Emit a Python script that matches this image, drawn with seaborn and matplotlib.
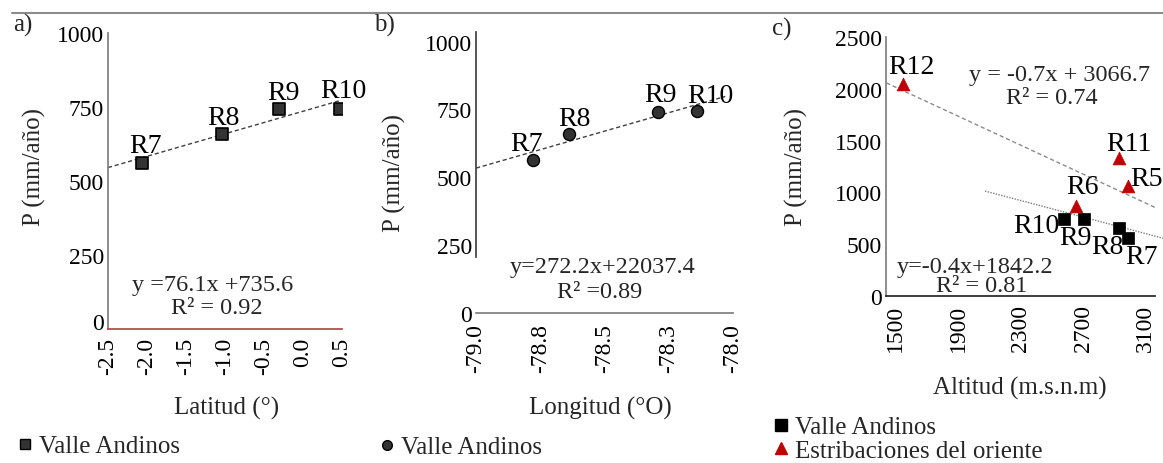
import numpy as np
import pandas as pd
import seaborn as sns
import matplotlib
matplotlib.use("Agg")
import matplotlib.pyplot as plt
from matplotlib.lines import Line2D

# ---------------- data ----------------
valle_regions = ["R7", "R8", "R9", "R10"]
valle_lat = [-2.07, -1.04, -0.31, 0.47]
valle_lon = [-78.78, -78.64, -78.29, -78.14]
valle_alt = [2989, 2930, 2706, 2578]
valle_p = [562, 660, 742, 744]

est_regions = ["R5", "R6", "R11", "R12"]
est_alt = [2985, 2655, 2930, 1551]
est_p = [1058, 871, 1329, 2048]

# trend lines (slope, intercept) as printed, and x-extent of each drawn line
fit_a = (76.1, 735.6)
fit_b = (272.2, 22037.4)
fit_c_est = (-0.7, 3066.7)
fit_c_valle = (-0.4, 1842.2)
fit_a_x = [-2.5, 0.47]
fit_b_x = [-79.0, -78.03]
fit_c_est_x = [1442, 3160]
fit_c_valle_x = [2073, 3211]

ticks_a = [-2.5, -2.0, -1.5, -1.0, -0.5, 0.0, 0.5]
ticks_b = [-79.0, -78.75, -78.5, -78.25, -78.0]
ticklabels_b = ["-79.0", "-78.8", "-78.5", "-78.3", "-78.0"]
ticks_c = [1500, 1900, 2300, 2700, 3100]
yticks_ab = [0, 250, 500, 750, 1000]
yticks_c = [0, 500, 1000, 1500, 2000, 2500]

eq_a = ["y =76.1x +735.6", "R² = 0.92"]
eq_b = ["y=272.2x+22037.4", "R² =0.89"]
eq_c_est = ["y = -0.7x + 3066.7", "R² = 0.74"]
eq_c_valle = ["y=-0.4x+1842.2", "R² = 0.81"]

# ---------------- style ----------------
sns.set_theme(style="white")
plt.rcParams["font.family"] = ["Liberation Serif", "DejaVu Serif"]
plt.rcParams["mathtext.fontset"] = "stix"

W, H = 1163, 464
fig = plt.figure(figsize=(W / 100, H / 100), dpi=100)


def box(l, r, t, b):
    return [l / W, 1 - b / H, (r - l) / W, (b - t) / H]


TICK_FS = 17
LAB_FS = 20
AX_FS = 18
EQ_FS = 17.5

df_valle = pd.DataFrame({"reg": valle_regions, "lat": valle_lat, "lon": valle_lon,
                         "alt": valle_alt, "p": valle_p})
df_est = pd.DataFrame({"reg": est_regions, "alt": est_alt, "p": est_p})


def fitline(ax, fit, xr, color, ls, lw=1.0, clip=True):
    xs = np.array(xr, dtype=float)
    ys = fit[0] * xs + fit[1]
    sns.lineplot(x=xs, y=ys, ax=ax, color=color, linestyle=ls, linewidth=lw,
                 clip_on=clip, zorder=1)


def label_points(ax, xs, ys, names, offsets):
    for x, y, n, (dx, dy) in zip(xs, ys, names, offsets):
        ax.annotate(n, (x, y), xytext=(dx, dy), textcoords="offset pixels",
                    ha="center", va="center", fontsize=LAB_FS, color="black",
                    zorder=5, annotation_clip=False)


def px(xp, yp):
    return xp / W, 1 - yp / H

# ---------------- panel a ----------------
ax_a = fig.add_axes(box(108, 342, 34, 330))
fitline(ax_a, fit_a, fit_a_x, "#404040", (0, (3, 2)))
sns.scatterplot(data=df_valle, x="lat", y="p", ax=ax_a, marker="s", s=70,
                color="#333333", edgecolor="black", linewidth=1.2, zorder=3)
ax_a.set_xlim(-2.5, 0.5)
ax_a.set_ylim(0, 1000)
ax_a.set_xticks(ticks_a)
ax_a.set_xticklabels([f"{t:.1f}" for t in ticks_a], rotation=90)
ax_a.set_yticks(yticks_ab)
ax_a.spines["top"].set_visible(False)
ax_a.spines["right"].set_visible(False)
ax_a.spines["left"].set_color("#808080")
ax_a.spines["bottom"].set_color("#B04A48")
ax_a.set_xlabel("Latitud (°)", fontsize=AX_FS)
ax_a.set_ylabel("P (mm/año)", fontsize=AX_FS)
ax_a.xaxis.set_label_coords(*px(227, 397), transform=fig.transFigure)
ax_a.yaxis.set_label_coords(*px(46, 167), transform=fig.transFigure)
label_points(ax_a, valle_lat, valle_p, valle_regions,
             [(4, 17), (2, 16), (5, 17), (4, 18)])
ax_a.text(*px(213, 285), eq_a[0], transform=fig.transFigure, ha="center", va="center", fontsize=EQ_FS)
ax_a.text(*px(217, 308), eq_a[1], transform=fig.transFigure, ha="center", va="center", fontsize=EQ_FS)

# ---------------- panel b ----------------
ax_b = fig.add_axes(box(476, 733, 33, 314))
fitline(ax_b, fit_b, fit_b_x, "#404040", (0, (3, 2)))
sns.scatterplot(data=df_valle, x="lon", y="p", ax=ax_b, marker="o", s=75,
                color="#333333", edgecolor="black", linewidth=1.0, zorder=3)
ax_b.set_xlim(-79.0, -78.0)
ax_b.set_ylim(0, 1035)
ax_b.set_xticks(ticks_b)
ax_b.set_xticklabels(ticklabels_b, rotation=90)
ax_b.set_yticks(yticks_ab)
ax_b.spines["top"].set_visible(False)
ax_b.spines["right"].set_visible(False)
ax_b.spines["left"].set_color("#404040")
ax_b.spines["left"].set_bounds(206, 1035)
ax_b.spines["bottom"].set_color("#808080")
ax_b.set_xlabel("Longitud (°O)", fontsize=AX_FS)
ax_b.set_ylabel("P (mm/año)", fontsize=AX_FS)
ax_b.xaxis.set_label_coords(*px(600, 397), transform=fig.transFigure)
ax_b.yaxis.set_label_coords(*px(406, 173), transform=fig.transFigure)
label_points(ax_b, valle_lon, valle_p, valle_regions,
             [(-6, 17), (6, 15), (2, 17), (13, 16)])
ax_b.text(*px(603, 267), eq_b[0], transform=fig.transFigure, ha="center", va="center", fontsize=EQ_FS)
ax_b.text(*px(600, 293), eq_b[1], transform=fig.transFigure, ha="center", va="center", fontsize=EQ_FS)

# ---------------- panel c ----------------
ax_c = fig.add_axes(box(886, 1155, 38, 297))
fitline(ax_c, fit_c_est, fit_c_est_x, "#8C8C8C", (0, (3, 2)))
fitline(ax_c, fit_c_valle, fit_c_valle_x, "#7F7F7F", (0, (1, 1)), clip=False)
sns.scatterplot(data=df_valle, x="alt", y="p", ax=ax_c, marker="s", s=85,
                color="black", edgecolor="black", linewidth=0.5, zorder=3)
sns.scatterplot(data=df_est, x="alt", y="p", ax=ax_c, marker="^", s=85,
                color="#C00000", edgecolor="#C00000", linewidth=0.5, zorder=3)
ax_c.set_xlim(1440, 3160)
ax_c.set_ylim(0, 2500)
ax_c.set_xticks(ticks_c)
ax_c.set_xticklabels([str(t) for t in ticks_c], rotation=90)
ax_c.set_yticks(yticks_c)
ax_c.spines["top"].set_visible(False)
ax_c.spines["right"].set_visible(False)
ax_c.spines["left"].set_color("#808080")
ax_c.spines["bottom"].set_color("#262626")
ax_c.set_xlabel("Altitud (m.s.n.m)", fontsize=AX_FS)
ax_c.set_ylabel("P (mm/año)", fontsize=AX_FS)
ax_c.xaxis.set_label_coords(*px(1020, 377), transform=fig.transFigure)
ax_c.yaxis.set_label_coords(*px(808, 167), transform=fig.transFigure)
label_points(ax_c, valle_alt, valle_p, valle_regions,
             [(13, -19), (-12, -19), (-9, -18), (-28, -7)])
label_points(ax_c, est_alt, est_p, est_regions,
             [(19, 8), (6, 19), (10, 15), (8, 17)])
ax_c.text(*px(1060, 75), eq_c_est[0], transform=fig.transFigure, ha="center", va="center", fontsize=EQ_FS)
ax_c.text(*px(1052, 98), eq_c_est[1], transform=fig.transFigure, ha="center", va="center", fontsize=EQ_FS)
ax_c.text(*px(975, 267), eq_c_valle[0], transform=fig.transFigure, ha="center", va="center", fontsize=EQ_FS)
ax_c.text(*px(982, 287), eq_c_valle[1], transform=fig.transFigure, ha="center", va="center", fontsize=EQ_FS)

for ax in (ax_a, ax_b, ax_c):
    ax.tick_params(axis="both", length=0, labelsize=TICK_FS, colors="black")
    ax.tick_params(axis="x", pad=5.5)
    ax.tick_params(axis="y", pad=3)
    ax.grid(False)
    ax.set_facecolor("none")
    if ax.get_legend() is not None:
        ax.get_legend().remove()

# keep the corner "0" labels clear of the rotated x labels
ax_a.yaxis.get_major_ticks()[0].label1.set_verticalalignment("baseline")
ax_b.tick_params(axis="x", pad=7)

# ---------------- legends ----------------
leg_kw = dict(loc="center left", frameon=False, fontsize=AX_FS, handletextpad=0.15,
              handlelength=0.8, borderpad=0, borderaxespad=0)
h_a = [Line2D([], [], marker="s", color="#333333", markeredgecolor="black", ls="none", markersize=7)]
fig.legend(h_a, ["Valle Andinos"], bbox_to_anchor=px(15, 447), **leg_kw)
h_b = [Line2D([], [], marker="o", color="#333333", markeredgecolor="black", ls="none", markersize=7)]
fig.legend(h_b, ["Valle Andinos"], bbox_to_anchor=px(377, 448), **leg_kw)
h_c = [Line2D([], [], marker="s", color="black", ls="none", markersize=8),
       Line2D([], [], marker="^", color="#C00000", ls="none", markersize=8)]
fig.legend(h_c, ["Valle Andinos", "Estribaciones del oriente"],
           bbox_to_anchor=px(771, 440), labelspacing=0.05, **leg_kw)

# ---------------- decorations ----------------
fig.add_artist(Line2D([12 / W, 1.0], [1 - 14 / H, 1 - 14 / H], color="#8C8C8C", lw=1.5))
fig.text(*px(13, 25), "a)", ha="left", va="center", fontsize=AX_FS)
fig.text(*px(374, 25), "b)", ha="left", va="center", fontsize=AX_FS)
fig.text(*px(772, 29), "c)", ha="left", va="center", fontsize=AX_FS)

fig.savefig("out.png", dpi=100, facecolor="white")
